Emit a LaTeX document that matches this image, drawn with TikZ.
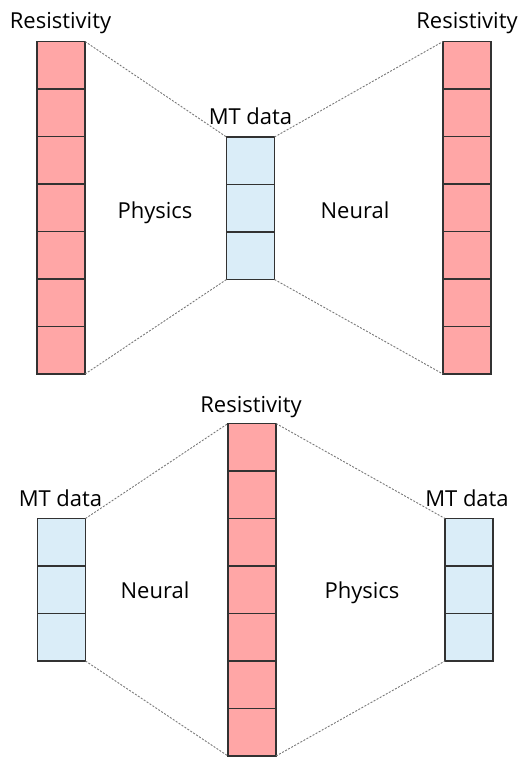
\documentclass[tikz,border=0pt]{standalone}
\usepackage{fontspec}
\setmainfont{Open Sans}
\definecolor{resred}{RGB}{255,166,166}
\definecolor{mtblue}{RGB}{218,237,248}
\definecolor{edgegray}{RGB}{50,50,50}
\definecolor{dashgray}{RGB}{120,120,120}
\begin{document}
\begin{tikzpicture}[x=1pt,y=-1pt,
  cell/.style={minimum width=48pt,minimum height=47.5pt,inner sep=0pt,outer sep=0pt},
  rcell/.style={cell,fill=resred},
  bcell/.style={cell,fill=mtblue},
  celledge/.style={draw=edgegray,line width=1.4pt},
  guide/.style={draw=dashgray,line width=0.9pt,dash pattern=on 2pt off 1.5pt},
  lbl/.style={font=\fontsize{22}{26}\selectfont,anchor=base,inner sep=0pt}]
\useasboundingbox (0,0) rectangle (520,760);
% top left resistivity
\foreach \i in {1,...,7} \node[rcell] (A\i) at (61,{41.5+47.5*(\i-0.5)}) {};
% top MT data
\foreach \i in {1,...,3} \node[bcell] (B\i) at (250.5,{137+47.5*(\i-0.5)}) {};
% top right resistivity
\foreach \i in {1,...,7} \node[rcell] (C\i) at (467,{41.5+47.5*(\i-0.5)}) {};
% bottom left MT
\foreach \i in {1,...,3} \node[bcell] (D\i) at (61.5,{518.5+47.5*(\i-0.5)}) {};
% bottom center resistivity
\foreach \i in {1,...,7} \node[rcell] (E\i) at (252,{423.5+47.5*(\i-0.5)}) {};
% bottom right MT
\foreach \i in {1,...,3} \node[bcell] (F\i) at (469,{518.5+47.5*(\i-0.5)}) {};
% cell borders
\foreach \c in {A,C,E} \foreach \i in {1,...,7}
  \draw[celledge] (\c\i.north west) rectangle (\c\i.south east);
\foreach \c in {B,D,F} \foreach \i in {1,...,3}
  \draw[celledge] (\c\i.north west) rectangle (\c\i.south east);
% guides
\draw[guide] (A1.north east) -- (B1.north west);
\draw[guide] (A7.south east) -- (B3.south west);
\draw[guide] (B1.north east) -- (C1.north west);
\draw[guide] (B3.south east) -- (C7.south west);
\draw[guide] (D1.north east) -- (E1.north west);
\draw[guide] (D3.south east) -- (E7.south west);
\draw[guide] (E1.north east) -- (F1.north west);
\draw[guide] (E7.south east) -- (F3.south west);
% labels
\node[lbl] (t1) at (60.5,28.5) {Resistivity};
\node[lbl] (t2) at (467,28.5) {Resistivity};
\node[lbl] (t3) at (250.5,124) {MT data};
\node[lbl] (t4) at (155,218.5) {Physics};
\node[lbl] (t5) at (355,218.5) {Neural};
\node[lbl] (t6) at (251,412.5) {Resistivity};
\node[lbl] (t7) at (60.5,506) {MT data};
\node[lbl] (t8) at (467,506) {MT data};
\node[lbl] (t9) at (155,598.5) {Neural};
\node[lbl] (t10) at (362,598.5) {Physics};
\end{tikzpicture}
\end{document}
